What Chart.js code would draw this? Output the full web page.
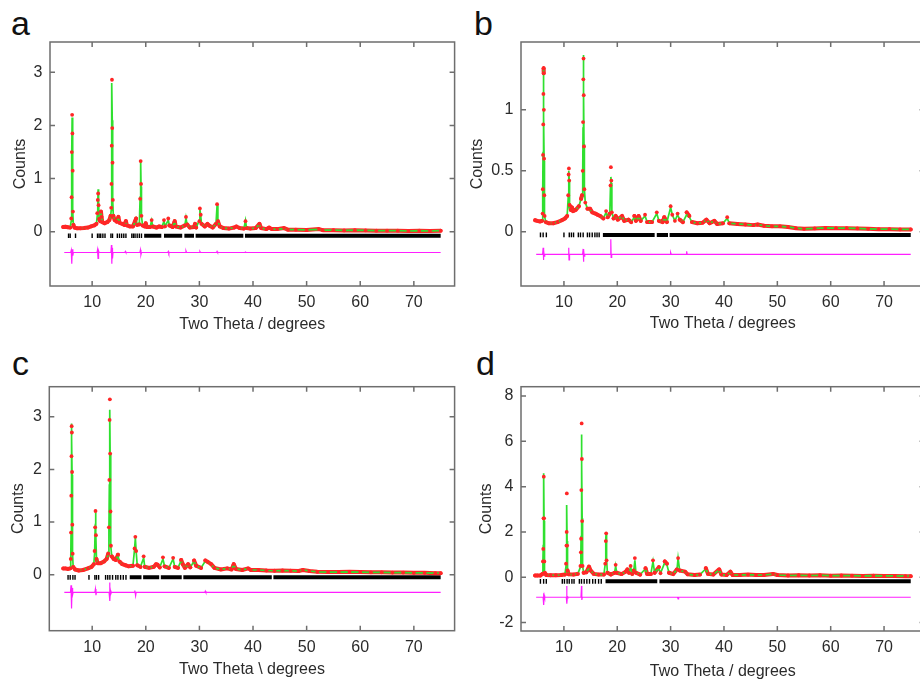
<!DOCTYPE html>
<html lang="en">
  <head>
    <title>Rietveld refinement plots a-d</title>
    <script src="https://cdn.jsdelivr.net/npm/chart.js"></script>
    <style>
      html, body { margin: 0; overflow: hidden; background: #fff; }
      body { width: 920px; height: 679px; position: relative; font-family: "Liberation Sans", Arial, sans-serif; }
      canvas { position: absolute; }
      .letter { position: absolute; font-size: 34px; line-height: 34px; color: #111; }
    </style>
  </head>
  <body>
    <div class="letter" style="left: 11px; top: 6px">a</div>
    <div class="letter" style="left: 474px; top: 6px">b</div>
    <div class="letter" style="left: 12px; top: 346px">c</div>
    <div class="letter" style="left: 476px; top: 346px">d</div>

    <canvas id="chartA" width="460" height="340" style="left: 0; top: 0"></canvas>
    <canvas id="chartB" width="470" height="340" style="left: 460px; top: 0"></canvas>
    <canvas id="chartC" width="460" height="345" style="left: 0; top: 340px"></canvas>
    <canvas id="chartD" width="470" height="345" style="left: 460px; top: 340px"></canvas>

    <script>
      // tick labels
      const xTickValues = [10, 20, 30, 40, 50, 60, 70];
      const yTicksA = [0, 1, 2, 3];
      const yTicksB = [0, 0.5, 1];
      const yTicksC = [0, 1, 2, 3];
      const yTicksD = [-2, 0, 2, 4, 6, 8];

      // ---- panel a ----
      const thetaA = [
        4.6, 5.0, 5.5, 5.9, 6.1, 6.16, 6.21, 6.27, 6.32, 6.37,
        6.42, 6.5, 6.7, 7.2, 7.8, 8.5, 9.2, 9.8, 10.4, 10.8,
        10.95, 11.05, 11.12, 11.2, 11.3, 11.5, 11.65, 11.75, 11.9, 12.3,
        12.8, 13.2, 13.45, 13.55, 13.6, 13.65, 13.7, 13.75, 13.8, 13.86,
        13.95, 14.2, 14.6, 14.9, 15.1, 15.6, 16.0, 16.3, 16.5, 17.0,
        17.6, 18.0, 18.2, 18.4, 18.8, 18.95, 19.05, 19.12, 19.2, 19.4,
        19.8, 20.0, 20.2, 20.8, 21.1, 21.3, 22.0, 22.5, 23.0, 23.4,
        23.6, 24.2, 24.4, 25.0, 25.4, 25.6, 26.5, 27.3, 27.5, 27.7,
        28.2, 29.0, 29.2, 29.4, 30.0, 30.1, 30.25, 30.4, 31.0, 31.5,
        31.8, 32.5, 33.1, 33.3, 33.45, 33.8, 34.5, 35.5, 36.5, 36.9,
        37.5, 38.3, 38.6, 38.8, 39.5, 40.5, 41.2, 41.5, 42.5, 43.0,
        43.5, 44.5, 45.8, 46.5, 48, 50, 52.3, 53, 55, 57,
        59, 61, 63, 65, 67, 69, 71, 73, 75
      ];
      const obsA = [
        0.09, 0.095, 0.085, 0.08, 0.25, 0.65, 1.5, 2.2, 1.85, 1.15,
        0.38, 0.13, 0.08, 0.065, 0.065, 0.07, 0.08, 0.1, 0.12, 0.15,
        0.35, 0.6, 0.72, 0.5, 0.24, 0.2, 0.38, 0.28, 0.18, 0.16,
        0.18, 0.22, 0.3, 0.45, 0.9, 1.62, 2.86, 1.95, 1.3, 0.6,
        0.3, 0.22, 0.19, 0.28, 0.17, 0.15, 0.13, 0.2, 0.12, 0.1,
        0.1, 0.2, 0.25, 0.13, 0.14, 0.62, 1.33, 0.9, 0.3, 0.12,
        0.1, 0.16, 0.09, 0.09, 0.22, 0.1, 0.08, 0.1, 0.09, 0.22,
        0.1, 0.25, 0.12, 0.09, 0.2, 0.1, 0.08, 0.12, 0.28, 0.14,
        0.08, 0.09, 0.15, 0.08, 0.2, 0.44, 0.32, 0.15, 0.1, 0.15,
        0.12, 0.08, 0.15, 0.52, 0.2, 0.1, 0.07, 0.06, 0.08, 0.1,
        0.07, 0.06, 0.2, 0.07, 0.06, 0.07, 0.15, 0.07, 0.05, 0.08,
        0.05, 0.05, 0.07, 0.04, 0.04, 0.035, 0.05, 0.03, 0.03, 0.025,
        0.03, 0.025, 0.02, 0.02, 0.02, 0.015, 0.02, 0.015, 0.02
      ];
      const calcA = [
        0.09, 0.09, 0.085, 0.08, 0.2, 0.7, 1.4, 2.15, 1.9, 1.1,
        0.4, 0.12, 0.08, 0.065, 0.065, 0.07, 0.08, 0.1, 0.12, 0.15,
        0.3, 0.55, 0.8, 0.55, 0.25, 0.2, 0.35, 0.3, 0.18, 0.16,
        0.18, 0.22, 0.28, 0.4, 0.85, 1.7, 2.8, 2.1, 1.25, 0.6,
        0.3, 0.22, 0.19, 0.26, 0.17, 0.15, 0.13, 0.18, 0.12, 0.1,
        0.1, 0.18, 0.24, 0.13, 0.14, 0.65, 1.32, 0.85, 0.3, 0.12,
        0.1, 0.15, 0.09, 0.09, 0.21, 0.1, 0.08, 0.1, 0.09, 0.2,
        0.1, 0.22, 0.12, 0.09, 0.19, 0.1, 0.08, 0.12, 0.26, 0.14,
        0.08, 0.09, 0.14, 0.08, 0.22, 0.42, 0.3, 0.15, 0.1, 0.14,
        0.12, 0.08, 0.15, 0.5, 0.2, 0.1, 0.07, 0.06, 0.08, 0.1,
        0.07, 0.06, 0.21, 0.07, 0.06, 0.07, 0.14, 0.07, 0.05, 0.07,
        0.05, 0.05, 0.06, 0.04, 0.04, 0.035, 0.045, 0.03, 0.03, 0.025,
        0.03, 0.025, 0.02, 0.02, 0.02, 0.015, 0.02, 0.015, 0.02
      ];
      const diffThetaA = [4.8, 6.0, 6.1, 6.2, 6.3, 6.4, 6.5, 10.9, 11.0, 11.1, 11.2, 11.3, 13.5, 13.6, 13.67, 13.74, 13.8, 13.9, 16.1, 16.2, 16.3, 18.9, 19.0, 19.1, 19.2, 24.1, 24.2, 24.3, 24.4, 27.4, 27.5, 27.6, 30.0, 30.1, 30.2, 33.2, 33.3, 33.4, 38.5, 38.6, 38.7, 75.0];
      const diffA = [-0.39, -0.39, -0.35, -0.6, -0.33, -0.45, -0.39, -0.39, -0.34, -0.5, -0.36, -0.39, -0.39, -0.25, -0.6, -0.3, -0.5, -0.39, -0.39, -0.37, -0.39, -0.39, -0.34, -0.43, -0.39, -0.39, -0.37, -0.41, -0.39, -0.39, -0.36, -0.39, -0.39, -0.37, -0.39, -0.39, -0.37, -0.39, -0.39, -0.38, -0.39, -0.39];
      const reflA = [5.6, 5.9, 6.9, 10.0, 11.0, 11.3, 11.6, 12.0, 12.4, 13.5, 13.8, 14.7, 15.1, 15.5, 15.9, 16.3, 17.4, 17.7, 18.0, 18.4, 18.8, 19.2];
      const reflRunsA = [[19.7, 22.9], [23.4, 26.8], [27.2, 29.0], [29.3, 38.2], [38.5, 75.0]];

      // ---- panel b ----
      const thetaB = [
        4.6, 5.0, 5.5, 5.9, 6.0, 6.04, 6.08, 6.12, 6.15, 6.18,
        6.21, 6.24, 6.28, 6.32, 6.38, 6.6, 7.2, 8.0, 8.8, 9.6,
        10.2, 10.6, 10.8, 10.88, 10.93, 10.98, 11.05, 11.3, 11.5, 11.7,
        12.2, 12.8, 13.2, 13.4, 13.52, 13.58, 13.63, 13.67, 13.71, 13.76,
        13.83, 14.0, 14.4, 14.9, 15.3, 15.9, 16.3, 16.8, 17.4, 17.9,
        18.2, 18.6, 18.72, 18.8, 18.88, 18.98, 19.3, 19.7, 20.1, 20.9,
        21.3, 22.1, 22.6, 23.2, 23.5, 24.0, 24.4, 25.2, 25.6, 26.5,
        27.4, 27.8, 28.5, 28.8, 29.3, 30.0, 30.3, 30.8, 31.3, 31.7,
        32.3, 33.0, 33.5, 34.0, 35.0, 36.0, 36.7, 37.3, 38.2, 38.7,
        39.8, 40.6, 41.0, 42.5, 44.0, 45.5, 46.3, 47.5, 49.0, 50.5,
        52.0, 53.5, 55.0, 57.0, 59.0, 61.0, 63.0, 65.0, 67.0, 69.0,
        71.0, 73.0, 75.0
      ];
      const obsB = [
        0.095, 0.09, 0.085, 0.09, 0.15, 0.35, 0.63, 0.88, 1.13, 1.34,
        1.3, 1.0, 0.6, 0.3, 0.13, 0.08, 0.07, 0.07, 0.08, 0.095,
        0.11, 0.13, 0.3, 0.47, 0.52, 0.42, 0.22, 0.18, 0.2, 0.17,
        0.18, 0.21, 0.27, 0.3, 0.5, 0.9, 1.25, 1.42, 1.12, 0.7,
        0.35, 0.24, 0.19, 0.19, 0.16, 0.15, 0.14, 0.13, 0.11, 0.17,
        0.12, 0.15, 0.38, 0.53, 0.42, 0.16, 0.11, 0.13, 0.1, 0.13,
        0.09, 0.1, 0.08, 0.13, 0.09, 0.13, 0.09, 0.14, 0.08, 0.08,
        0.16, 0.09, 0.08, 0.12, 0.08, 0.21, 0.14, 0.09, 0.15, 0.1,
        0.08, 0.16, 0.13, 0.08, 0.07, 0.075, 0.1, 0.07, 0.09, 0.065,
        0.07, 0.12, 0.07, 0.065, 0.06, 0.055, 0.06, 0.05, 0.045, 0.045,
        0.04, 0.03, 0.025, 0.028, 0.032, 0.03, 0.03, 0.028, 0.025, 0.022,
        0.022, 0.02, 0.02
      ];
      const calcB = [
        0.095, 0.09, 0.085, 0.09, 0.14, 0.33, 0.65, 0.95, 1.2, 1.33,
        1.25, 0.95, 0.58, 0.28, 0.13, 0.08, 0.07, 0.07, 0.08, 0.095,
        0.11, 0.13, 0.28, 0.45, 0.5, 0.43, 0.2, 0.18, 0.19, 0.17,
        0.18, 0.21, 0.27, 0.29, 0.5, 0.85, 1.3, 1.45, 1.15, 0.72,
        0.35, 0.24, 0.19, 0.18, 0.16, 0.15, 0.14, 0.13, 0.11, 0.16,
        0.12, 0.15, 0.36, 0.45, 0.4, 0.16, 0.11, 0.12, 0.1, 0.13,
        0.09, 0.1, 0.08, 0.12, 0.09, 0.12, 0.09, 0.13, 0.08, 0.08,
        0.15, 0.09, 0.08, 0.11, 0.08, 0.2, 0.14, 0.09, 0.14, 0.1,
        0.08, 0.14, 0.12, 0.08, 0.07, 0.075, 0.1, 0.07, 0.09, 0.065,
        0.07, 0.11, 0.07, 0.065, 0.06, 0.055, 0.06, 0.05, 0.045, 0.045,
        0.04, 0.03, 0.025, 0.028, 0.032, 0.03, 0.03, 0.028, 0.025, 0.022,
        0.022, 0.02, 0.02
      ];
      const diffThetaB = [4.8, 6.0, 6.1, 6.16, 6.22, 6.3, 6.4, 10.8, 10.9, 10.95, 11.05, 13.5, 13.6, 13.66, 13.72, 13.8, 13.9, 18.7, 18.78, 18.85, 18.95, 29.9, 30.0, 30.1, 32.9, 33.0, 33.1, 75.0];
      const diffB = [-0.184, -0.184, -0.13, -0.23, -0.15, -0.2, -0.184, -0.184, -0.13, -0.23, -0.184, -0.184, -0.14, -0.245, -0.15, -0.2, -0.184, -0.184, -0.06, -0.21, -0.184, -0.184, -0.17, -0.184, -0.184, -0.16, -0.184, -0.184];
      const reflB = [5.6, 6.1, 6.7, 10.0, 11.0, 11.4, 11.8, 12.7, 13.1, 13.6, 14.4, 14.8, 15.3, 15.8, 16.2, 16.6];
      const reflRunsB = [[17.3, 27.0], [27.4, 29.5], [29.8, 75.0]];

      // ---- panel c ----
      const thetaC = [
        4.6, 5.0, 5.5, 5.9, 6.0, 6.05, 6.1, 6.14, 6.17, 6.21,
        6.25, 6.3, 6.36, 6.45, 6.8, 7.5, 8.3, 9.2, 9.9, 10.3,
        10.45, 10.55, 10.62, 10.7, 10.8, 11.0, 11.6, 12.2, 12.7, 13.0,
        13.12, 13.2, 13.25, 13.3, 13.35, 13.42, 13.5, 13.65, 14.0, 14.4,
        14.8, 15.1, 15.6, 16.2, 16.8, 17.6, 17.9, 18.05, 18.2, 18.4,
        19.0, 19.6, 19.8, 20.6, 21.5, 21.9, 22.2, 22.6, 23.2, 23.5,
        24.3, 25.1, 25.4, 26.0, 26.6, 26.9, 27.3, 27.9, 28.3, 29.0,
        29.4, 30.3, 31.1, 31.6, 32.2, 32.8, 34.0, 35.2, 36.0, 36.4,
        36.8, 38.0, 39.1, 39.6, 41.0, 42.5, 44.0, 45.5, 47.0, 48.5,
        49.3, 50.5, 52.0, 54.0, 56.0, 58.0, 60.0, 62.0, 64.0, 66.0,
        68.0, 70.0, 72.0, 74.0, 75.0
      ];
      const obsC = [
        0.12, 0.12, 0.11, 0.12, 0.3, 0.8, 1.5, 2.25, 2.82, 2.7,
        1.95, 0.95, 0.4, 0.15, 0.1, 0.08, 0.09, 0.12, 0.15, 0.2,
        0.45, 0.9, 1.21, 0.75, 0.3, 0.22, 0.22, 0.25, 0.3, 0.4,
        0.9, 1.8, 2.94, 3.33, 2.3, 1.2, 0.55, 0.35, 0.3, 0.28,
        0.38, 0.25, 0.2, 0.18, 0.16, 0.17, 0.5, 0.72, 0.45, 0.18,
        0.15, 0.35, 0.15, 0.13, 0.15, 0.2, 0.19, 0.14, 0.33, 0.16,
        0.13, 0.32, 0.15, 0.13, 0.28, 0.2, 0.13, 0.2, 0.14, 0.27,
        0.17, 0.13, 0.27, 0.24, 0.2, 0.13, 0.1, 0.12, 0.1, 0.2,
        0.11, 0.09, 0.12, 0.09, 0.09, 0.08, 0.075, 0.08, 0.075, 0.07,
        0.09, 0.07, 0.055, 0.05, 0.05, 0.055, 0.05, 0.045, 0.045, 0.04,
        0.04, 0.035, 0.035, 0.03, 0.03
      ];
      const calcC = [
        0.12, 0.12, 0.11, 0.12, 0.25, 0.75, 1.45, 2.3, 2.87, 2.6,
        1.9, 1.0, 0.4, 0.15, 0.1, 0.08, 0.09, 0.12, 0.15, 0.2,
        0.4, 0.85, 1.18, 0.8, 0.3, 0.22, 0.22, 0.25, 0.3, 0.38,
        0.85, 1.7, 2.6, 3.13, 2.3, 1.15, 0.55, 0.35, 0.3, 0.28,
        0.36, 0.25, 0.2, 0.18, 0.16, 0.17, 0.48, 0.7, 0.44, 0.18,
        0.15, 0.32, 0.15, 0.13, 0.15, 0.2, 0.19, 0.14, 0.3, 0.16,
        0.13, 0.3, 0.15, 0.13, 0.27, 0.2, 0.13, 0.19, 0.14, 0.26,
        0.17, 0.13, 0.26, 0.24, 0.19, 0.13, 0.1, 0.12, 0.1, 0.19,
        0.11, 0.09, 0.12, 0.09, 0.09, 0.08, 0.075, 0.08, 0.075, 0.07,
        0.09, 0.07, 0.055, 0.05, 0.05, 0.055, 0.05, 0.045, 0.045, 0.04,
        0.04, 0.035, 0.035, 0.03, 0.03
      ];
      const diffThetaC = [4.8, 5.95, 6.05, 6.15, 6.25, 6.35, 6.45, 10.5, 10.6, 10.7, 10.8, 13.15, 13.25, 13.32, 13.4, 13.5, 13.6, 17.85, 17.95, 18.1, 18.2, 31.0, 31.1, 31.2, 75.0];
      const diffC = [-0.335, -0.335, -0.2, -0.64, -0.25, -0.38, -0.335, -0.335, -0.27, -0.39, -0.335, -0.335, -0.15, -0.5, -0.3, -0.36, -0.335, -0.335, -0.3, -0.4, -0.335, -0.335, -0.31, -0.335, -0.335];
      const reflC = [5.5, 5.9, 6.4, 6.8, 9.4, 10.5, 10.8, 11.2, 12.5, 12.9, 13.3, 13.8, 14.4, 14.8, 15.3, 15.8, 16.3];
      const reflRunsC = [[17.0, 19.2], [19.5, 22.5], [22.8, 26.7], [27.0, 43.5], [43.8, 75.0]];

      // ---- panel d ----
      const thetaD = [
        4.6, 5.0, 5.6, 6.0, 6.07, 6.13, 6.18, 6.23, 6.28, 6.33,
        6.4, 6.7, 7.5, 8.5, 9.5, 10.2, 10.4, 10.48, 10.52, 10.55,
        10.6, 10.68, 10.9, 11.8, 12.6, 13.1, 13.18, 13.22, 13.27, 13.33,
        13.37, 13.42, 13.5, 13.7, 14.2, 14.7, 15.0, 15.6, 16.5, 17.5,
        17.75, 17.85, 17.92, 18.0, 18.15, 18.8, 19.5, 19.7, 19.9, 20.8,
        21.6, 21.9, 22.2, 22.5, 22.8, 23.1, 23.3, 23.5, 24.3, 25.3,
        25.6, 26.3, 26.7, 27.0, 27.8, 28.1, 28.9, 29.3, 29.7, 30.5,
        31.2, 31.4, 31.7, 32.7, 33.2, 34.5, 35.5, 36.6, 37.0, 38.0,
        39.1, 39.5, 40.5, 41.2, 41.6, 43.0, 44.5, 46.0, 47.5, 49.2,
        50.0, 52.0, 54.0, 56.0, 58.0, 60.0, 62.0, 64.0, 66.0, 68.0,
        70.0, 72.0, 74.0, 75.0
      ];
      const obsD = [
        0.08, 0.08, 0.08, 0.15, 0.7, 1.25, 2.6, 4.44, 2.6, 0.7,
        0.2, 0.1, 0.09, 0.09, 0.1, 0.12, 0.6, 1.4, 2.0, 3.7,
        1.4, 0.3, 0.13, 0.12, 0.15, 0.5, 1.1, 1.7, 3.85, 6.79,
        5.22, 2.48, 0.5, 0.2, 0.22, 0.47, 0.3, 0.15, 0.12, 0.12,
        0.6, 1.6, 1.94, 0.75, 0.2, 0.12, 0.2, 0.55, 0.2, 0.14,
        0.25, 0.35, 0.2, 0.5, 0.15, 0.3, 0.85, 0.2, 0.12, 0.4,
        0.15, 0.15, 0.75, 0.2, 0.45, 0.18, 0.7, 0.6, 0.2, 0.14,
        0.35, 0.85, 0.3, 0.25, 0.13, 0.1, 0.12, 0.4, 0.15, 0.12,
        0.35, 0.12, 0.1, 0.25, 0.1, 0.1, 0.12, 0.1, 0.1, 0.15,
        0.1, 0.08, 0.09, 0.08, 0.09, 0.07, 0.08, 0.07, 0.06, 0.07,
        0.06, 0.06, 0.05, 0.05
      ];
      const calcD = [
        0.08, 0.08, 0.08, 0.15, 0.75, 1.4, 2.9, 4.59, 2.5, 0.8,
        0.2, 0.1, 0.09, 0.09, 0.1, 0.12, 0.5, 1.3, 2.3, 3.19,
        1.6, 0.35, 0.13, 0.12, 0.15, 0.45, 1.1, 1.8, 3.6, 6.3,
        5.0, 2.6, 0.5, 0.2, 0.22, 0.4, 0.3, 0.15, 0.12, 0.12,
        0.6, 1.7, 1.95, 0.8, 0.2, 0.12, 0.2, 0.5, 0.2, 0.14,
        0.25, 0.32, 0.2, 0.45, 0.15, 0.3, 0.75, 0.2, 0.12, 0.38,
        0.15, 0.15, 0.7, 0.2, 0.4, 0.18, 0.65, 0.55, 0.2, 0.14,
        0.35, 0.84, 0.3, 0.24, 0.13, 0.1, 0.12, 0.38, 0.15, 0.12,
        0.33, 0.12, 0.1, 0.23, 0.1, 0.1, 0.12, 0.1, 0.1, 0.14,
        0.1, 0.08, 0.09, 0.08, 0.09, 0.07, 0.08, 0.07, 0.06, 0.07,
        0.06, 0.06, 0.05, 0.05
      ];
      const diffThetaD = [4.8, 6.1, 6.18, 6.24, 6.32, 6.4, 10.45, 10.52, 10.58, 10.65, 10.75, 13.2, 13.3, 13.36, 13.45, 31.3, 31.4, 31.5, 75.0];
      const diffD = [-0.88, -0.88, -0.7, -1.22, -0.8, -0.88, -0.88, -0.38, -1.17, -0.85, -0.88, -0.88, -0.38, -1.0, -0.88, -0.88, -0.95, -0.88, -0.88];
      const reflD = [5.6, 6.2, 6.7, 9.7, 10.1, 10.6, 11.0, 11.5, 11.9, 12.9, 13.3, 13.8, 14.3, 14.8, 15.4, 15.9, 16.5, 17.0];
      const reflRunsD = [[17.8, 27.5], [27.9, 75.0]];

      const RED = "#ff2626";
      const GREEN = "#2fe02f";
      const MAGENTA = "#ff1fff";
      const TEXT = "#2b2b2b";

      Chart.defaults.font.family = '"Liberation Sans", Arial, sans-serif';
      Chart.defaults.font.size = 16;

      // box round the plot area with inward ticks on all four sides
      const frameTicks = {
        id: "frameTicks",
        afterDatasetsDraw(chart) {
          const { ctx, chartArea: a, scales } = chart;
          ctx.save();
          ctx.strokeStyle = "#6e6e6e";
          ctx.lineWidth = 1.5;
          ctx.strokeRect(a.left, a.top, a.right - a.left, a.bottom - a.top);
          ctx.beginPath();
          scales.x.ticks.forEach((t) => {
            const px = scales.x.getPixelForValue(t.value);
            ctx.moveTo(px, a.bottom);
            ctx.lineTo(px, a.bottom - 5);
            ctx.moveTo(px, a.top);
            ctx.lineTo(px, a.top + 5);
          });
          scales.y.ticks.forEach((t) => {
            const py = scales.y.getPixelForValue(t.value);
            ctx.moveTo(a.left, py);
            ctx.lineTo(a.left + 5, py);
            ctx.moveTo(a.right, py);
            ctx.lineTo(a.right - 5, py);
          });
          ctx.stroke();
          ctx.restore();
        },
      };

      function points(xs, ys) {
        return xs.map((x, i) => ({ x: x, y: ys[i] }));
      }

      function makePanel(id, p) {
        const runs = [];
        p.runs.forEach((r) => {
          runs.push({ x: r[0], y: p.tickY }, { x: r[1], y: p.tickY }, { x: r[1], y: null });
        });

        return new Chart(document.getElementById(id), {
          type: "scatter",
          data: {
            datasets: [
              {
                // observed points on top
                data: points(p.theta, p.obs),
                pointRadius: 1.9,
                pointBackgroundColor: RED,
                pointBorderWidth: 0,
                showLine: false,
              },
              {
                type: "line",
                data: points(p.theta, p.calc),
                borderColor: GREEN,
                borderWidth: 1.7,
                pointRadius: 0,
                tension: 0,
              },
              {
                // the thick red band of dense observations along the baseline
                type: "line",
                data: points(p.theta, p.obs),
                borderColor: RED,
                borderWidth: 4,
                borderJoinStyle: "round",
                borderCapStyle: "round",
                pointRadius: 0,
                tension: 0,
                segment: {
                  borderColor: (c) =>
                    Math.abs(c.p1.y - c.p0.y) > 6 ? "rgba(0,0,0,0)" : RED,
                },
              },
              {
                type: "line",
                data: points(p.diffTheta, p.diff),
                borderColor: MAGENTA,
                borderWidth: 1.2,
                pointRadius: 0,
                tension: 0,
              },
              {
                type: "line",
                data: runs,
                borderColor: "#000",
                borderWidth: 4,
                pointRadius: 0,
                spanGaps: false,
              },
              {
                data: p.refl.map((x) => ({ x: x, y: p.tickY })),
                pointStyle: "line",
                pointRotation: 90,
                pointRadius: 2.3,
                pointBorderColor: "#000",
                pointBorderWidth: 1.4,
                showLine: false,
              },
            ],
          },
          options: {
            responsive: false,
            animation: false,
            events: [],
            layout: { padding: p.pad },
            plugins: { legend: { display: false }, tooltip: { enabled: false } },
            scales: {
              x: {
                type: "linear",
                min: p.xMin,
                max: p.xMax,
                afterBuildTicks: (ax) => {
                  ax.ticks = xTickValues.map((v) => ({ value: v }));
                },
                afterFit: (ax) => {
                  ax.height = p.xH;
                },
                grid: { display: false, drawTicks: false, tickLength: 0 },
                border: { display: false },
                ticks: {
                  padding: 7,
                  color: TEXT,
                  maxRotation: 0,
                  autoSkip: false,
                  callback: (v) => String(v),
                },
                title: {
                  display: true,
                  text: p.xTitle,
                  color: TEXT,
                  padding: { top: 0, bottom: p.xTitlePad },
                },
              },
              y: {
                type: "linear",
                min: p.yMin,
                max: p.yMax,
                afterBuildTicks: (ax) => {
                  ax.ticks = p.yTicks.map((v) => ({ value: v }));
                },
                afterFit: (ax) => {
                  ax.width = p.yW;
                },
                grid: { display: false, drawTicks: false, tickLength: 0 },
                border: { display: false },
                ticks: {
                  padding: 7.5,
                  color: TEXT,
                  autoSkip: false,
                  callback: (v) => String(v),
                },
                title: {
                  display: true,
                  text: "Counts",
                  color: TEXT,
                  padding: { top: p.yTitlePad, bottom: 0 },
                },
              },
            },
          },
          plugins: [frameTicks],
        });
      }

      makePanel("chartA", {
        theta: thetaA, obs: obsA, calc: calcA, diffTheta: diffThetaA, diff: diffA,
        refl: reflA, runs: reflRunsA, tickY: -0.075, yTicks: yTicksA,
        xMin: 2.14, xMax: 77.6, yMin: -1.02, yMax: 3.57,
        pad: { left: 0, top: 42, right: 3, bottom: 0 }, yW: 50, xH: 54,
        xTitle: "Two Theta / degrees", xTitlePad: 5.4, yTitlePad: 11.4,
      });
      makePanel("chartB", {
        theta: thetaB, obs: obsB, calc: calcB, diffTheta: diffThetaB, diff: diffB,
        refl: reflB, runs: reflRunsB, tickY: -0.025, yTicks: yTicksB,
        xMin: 1.95, xMax: 77.6, yMin: -0.444, yMax: 1.556,
        pad: { left: 0, top: 42, right: 2, bottom: 0 }, yW: 61, xH: 54,
        xTitle: "Two Theta / degrees", xTitlePad: 6.4, yTitlePad: 8.4,
      });
      makePanel("chartC", {
        theta: thetaC, obs: obsC, calc: calcC, diffTheta: diffThetaC, diff: diffC,
        refl: reflC, runs: reflRunsC, tickY: -0.05, yTicks: yTicksC,
        xMin: 2.0, xMax: 77.6, yMin: -1.063, yMax: 3.57,
        pad: { left: 0, top: 46.7, right: 4, bottom: 0 }, yW: 49.3, xH: 54.3,
        xTitle: "Two Theta \\ degrees", xTitlePad: 5.4, yTitlePad: 9.4,
      });
      makePanel("chartD", {
        theta: thetaD, obs: obsD, calc: calcD, diffTheta: diffThetaD, diff: diffD,
        refl: reflD, runs: reflRunsD, tickY: -0.18, yTicks: yTicksD,
        xMin: 1.96, xMax: 77.6, yMin: -2.37, yMax: 8.41,
        pad: { left: 0, top: 46.7, right: 2, bottom: 0 }, yW: 61, xH: 54,
        xTitle: "Two Theta / degrees", xTitlePad: 3.7, yTitlePad: 17.4,
      });
    </script>
  </body>
</html>
